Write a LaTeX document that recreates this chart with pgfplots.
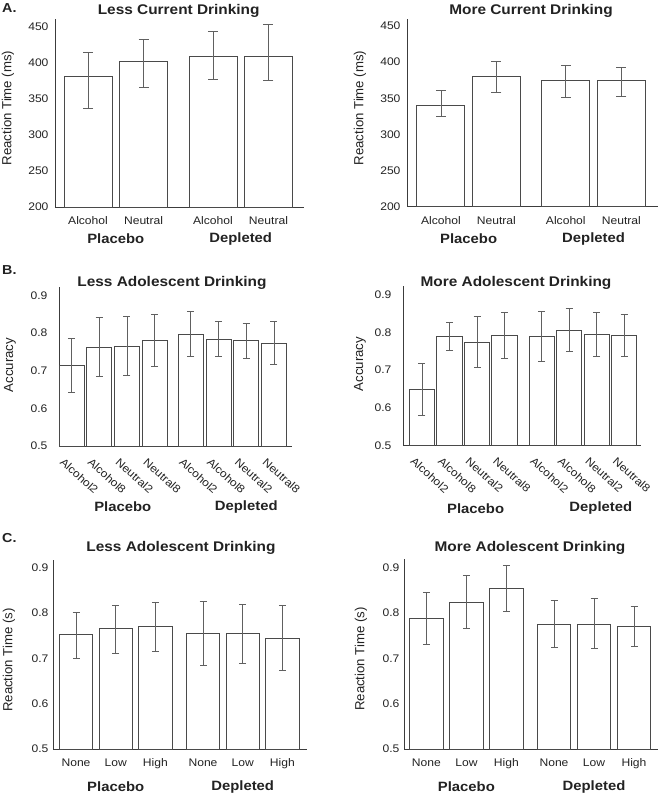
\documentclass[border=0pt]{standalone}
\usepackage{fontspec}
\setmainfont{Liberation Sans}[FakeStretch=1.1]
\newfontfamily\ylfont{Liberation Sans}
\usepackage{pgfplots}
\pgfplotsset{compat=1.18}
\definecolor{axgray}{HTML}{3C3C3C}
\definecolor{bargray}{HTML}{4A4A4A}
\definecolor{errgray}{HTML}{606060}
\definecolor{txt}{HTML}{222222}

\pgfplotsset{
  panel/.style={
    scale only axis, anchor=south west,
    axis x line=bottom, axis y line=left,
    axis line style={-, draw=axgray, line width=0.8pt},
    major tick length=0pt,
    ybar, clip=false,
    tick label style={font=\fontsize{11}{12}\selectfont, text=txt},
    /pgf/number format/assume math mode=true,
    xticklabel style={yshift=-6pt},
  },
  bars/.style={
    draw=bargray, fill=white, line width=0.8pt,
    error bars/y dir=both, error bars/y explicit,
    error bars/error mark=|,
    error bars/error bar style={draw=errgray, line width=0.7pt},
    error bars/error mark options={draw=errgray, line width=0.7pt, mark size=#1},
  },
  bars/.default=4pt,
  rt/.style={ymin=200, ytick={200,250,...,450}, yticklabel style={xshift=-3pt}},
  prop/.style={ytick={0.5,0.6,...,0.9},
    yticklabel style={/pgf/number format/fixed, /pgf/number format/precision=1,
      /pgf/number format/fixed zerofill}},
}
\newcommand{\grp}[3]{\node[font=\fontsize{13.5}{14}\selectfont\bfseries, text=txt] at (axis cs:#1) [yshift=#2] {#3};}

\begin{document}
\begin{tikzpicture}
\path[use as bounding box] (0pt,0pt) rectangle (658pt,794pt);

% ---- A: current drinking, reaction time
\begin{axis}[panel, rt, at={(55pt,587pt)}, width=249pt, height=188pt,
  ymax=460.7, xmin=-0.595, xmax=3.89, bar width=0.865,
  xtick={0,1,2.25,3.25}, xticklabels={Alcohol,Neutral,Alcohol,Neutral}]
\addplot[bars=5pt] coordinates {
  (0,380.8) += (0,33.7) -= (0,43.8)
  (1,401.6) += (0,30.9) -= (0,35.6)
  (2.25,408.5) += (0,35.5) -= (0,30.9)
  (3.25,408.5) += (0,44.5) -= (0,32.8)
};
\grp{0.5,200}{-32pt}{Placebo}
\grp{2.75,200}{-32pt}{Depleted}
\end{axis}

\begin{axis}[panel, rt, at={(407pt,587.3pt)}, width=251pt, height=187.7pt,
  ymax=459.7, xmin=-0.61, xmax=3.91, bar width=0.865,
  xtick={0,1,2.25,3.25}, xticklabels={Alcohol,Neutral,Alcohol,Neutral}]
\addplot[bars=5pt] coordinates {
  (0,340.7) += (0,20.7) -= (0,16.2)
  (1,379.9) += (0,21.1) -= (0,21.9)
  (2.25,374.4) += (0,21.2) -= (0,23.1)
  (3.25,374.4) += (0,18.4) -= (0,21.4)
};
\grp{0.5,200}{-32pt}{Placebo}
\grp{2.75,200}{-32pt}{Depleted}
\end{axis}

% ---- B: adolescent drinking, accuracy
\begin{axis}[panel, prop, at={(59pt,348pt)}, width=233pt, height=159.3pt,
  ymin=0.5, ymax=0.9237, xmin=-0.45, xmax=7.95, bar width=0.9,
  yticklabel style={xshift=-8pt},
  xtick={0,1,2,3,4.3,5.3,6.3,7.3},
  xticklabels={Alcohol2,Alcohol8,Neutral2,Neutral8,Alcohol2,Alcohol8,Neutral2,Neutral8},
  xticklabel style={rotate=-42, anchor=north west, xshift=-5pt, yshift=-5pt}]
\addplot[bars=3.5pt] coordinates {
  (0,0.715) += (0,0.072) -= (0,0.072)
  (1,0.762) += (0,0.079) -= (0,0.077)
  (2,0.765) += (0,0.079) -= (0,0.077)
  (3,0.781) += (0,0.068) -= (0,0.070)
  (4.3,0.798) += (0,0.061) -= (0,0.059)
  (5.3,0.784) += (0,0.047) -= (0,0.046)
  (6.3,0.781) += (0,0.045) -= (0,0.047)
  (7.3,0.773) += (0,0.058) -= (0,0.057)
};
\grp{1.85,0.5}{-61pt}{Placebo}
\grp{6.3,0.5}{-61pt}{Depleted}
\end{axis}

\begin{axis}[panel, prop, at={(403pt,348.7pt)}, width=238pt, height=159.3pt,
  ymin=0.5, ymax=0.924, xmin=-0.69, xmax=7.96, bar width=0.92,
  yticklabel style={xshift=-8pt},
  xtick={0,1,2,3,4.35,5.35,6.35,7.35},
  xticklabels={Alcohol2,Alcohol8,Neutral2,Neutral8,Alcohol2,Alcohol8,Neutral2,Neutral8},
  xticklabel style={rotate=-42, anchor=north west, xshift=-5pt, yshift=-5pt}]
\addplot[bars=3.5pt] coordinates {
  (0,0.649) += (0,0.068) -= (0,0.069)
  (1,0.791) += (0,0.036) -= (0,0.038)
  (2,0.775) += (0,0.068) -= (0,0.067)
  (3,0.793) += (0,0.061) -= (0,0.062)
  (4.35,0.790) += (0,0.066) -= (0,0.066)
  (5.35,0.806) += (0,0.058) -= (0,0.056)
  (6.35,0.795) += (0,0.059) -= (0,0.058)
  (7.35,0.792) += (0,0.057) -= (0,0.055)
};
\grp{1.95,0.5}{-63pt}{Placebo}
\grp{6.5,0.5}{-63pt}{Depleted}
\end{axis}

% ---- C: adolescent drinking, reaction time
\begin{axis}[panel, prop, at={(53pt,45pt)}, width=254pt, height=189pt,
  ymin=0.5, ymax=0.917, xmin=-0.58, xmax=5.82, bar width=0.84,
  yticklabel style={xshift=-1pt}, xticklabel style={yshift=0pt},
  xtick={0,1,2,3.2,4.2,5.2}, xticklabels={None,Low,High,None,Low,High}]
\addplot[bars=3.5pt] coordinates {
  (0,0.752) += (0,0.050) -= (0,0.051)
  (1,0.765) += (0,0.052) -= (0,0.054)
  (2,0.770) += (0,0.053) -= (0,0.054)
  (3.2,0.754) += (0,0.072) -= (0,0.070)
  (4.2,0.754) += (0,0.065) -= (0,0.065)
  (5.2,0.745) += (0,0.071) -= (0,0.071)
};
\grp{1,0.5}{-38pt}{Placebo}
\grp{4.2,0.5}{-38pt}{Depleted}
\end{axis}

\begin{axis}[panel, prop, at={(404pt,45pt)}, width=254pt, height=190pt,
  ymin=0.5, ymax=0.919, xmin=-0.56, xmax=5.79, bar width=0.84,
  yticklabel style={xshift=-1pt}, xticklabel style={yshift=0pt},
  xtick={0,1,2,3.19,4.19,5.19}, xticklabels={None,Low,High,None,Low,High}]
\addplot[bars=3.5pt] coordinates {
  (0,0.788) += (0,0.058) -= (0,0.057)
  (1,0.824) += (0,0.058) -= (0,0.059)
  (2,0.854) += (0,0.052) -= (0,0.050)
  (3.19,0.775) += (0,0.052) -= (0,0.051)
  (4.19,0.775) += (0,0.057) -= (0,0.054)
  (5.19,0.771) += (0,0.044) -= (0,0.044)
};
\grp{1,0.5}{-38pt}{Placebo}
\grp{4.19,0.5}{-38pt}{Depleted}
\end{axis}

% ---- panel titles, letters and y labels
\begin{scope}[x=1pt, y=1pt, every node/.style={text=txt}]
\node[font=\fontsize{14}{15}\selectfont\bfseries, anchor=base] at (178.7,779) {Less Current Drinking};
\node[font=\fontsize{14}{15}\selectfont\bfseries, anchor=base] at (531,779) {More Current Drinking};
\node[font=\fontsize{14}{15}\selectfont\bfseries, anchor=base] at (172,507.3) {Less Adolescent Drinking};
\node[font=\fontsize{14}{15}\selectfont\bfseries, anchor=base] at (516,507.3) {More Adolescent Drinking};
\node[font=\fontsize{14}{15}\selectfont\bfseries, anchor=base] at (181,242.3) {Less Adolescent Drinking};
\node[font=\fontsize{14}{15}\selectfont\bfseries, anchor=base] at (530,242.3) {More Adolescent Drinking};
\node[font=\fontsize{13}{14}\selectfont\bfseries, anchor=base west, inner sep=0pt] at (2,781) {A.};
\node[font=\fontsize{13}{14}\selectfont\bfseries, anchor=base west, inner sep=0pt] at (2,519) {B.};
\node[font=\fontsize{13}{14}\selectfont\bfseries, anchor=base west, inner sep=0pt] at (2,251) {C.};
\node[font=\ylfont\fontsize{13.2}{14}\selectfont, rotate=90] at (8,686) {Reaction Time (ms)};
\node[font=\ylfont\fontsize{13.2}{14}\selectfont, rotate=90] at (360,686) {Reaction Time (ms)};
\node[font=\ylfont\fontsize{13.2}{14}\selectfont, rotate=90] at (10,429) {Accuracy};
\node[font=\ylfont\fontsize{13.2}{14}\selectfont, rotate=90] at (360,430) {Accuracy};
\node[font=\ylfont\fontsize{13.2}{14}\selectfont, rotate=90] at (9,134) {Reaction Time (s)};
\node[font=\ylfont\fontsize{13.2}{14}\selectfont, rotate=90] at (361,135) {Reaction Time (s)};
\end{scope}
\end{tikzpicture}
\end{document}
